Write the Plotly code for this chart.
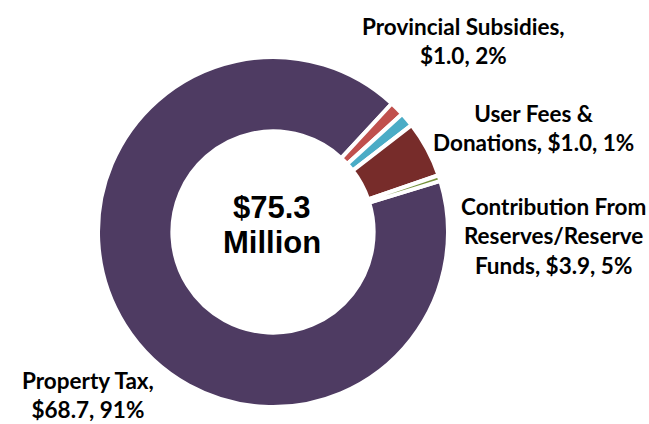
import plotly.graph_objects as go

# Revenue sources ($ millions), in clockwise drawing order
categories = ["Property Tax", "Provincial Subsidies", "User Fees & Donations",
              "Contribution From Reserves/Reserve Funds", "Other"]
values = [68.7, 1.0, 1.0, 3.9, 0.4]
percent_labels = ["91%", "2%", "1%", "5%", ""]
label_lines = [
    ["Property Tax,"],
    ["Provincial Subsidies,"],
    ["User Fees &", "Donations,"],
    ["Contribution From", "Reserves/Reserve", "Funds,"],
    [],
]
center_lines = ["$75.3", "Million"]

colors = ["#4E3B62", "#C0504D", "#4BACC6", "#772C2A", "#77933C"]

W, H = 649, 424

fig = go.Figure(go.Pie(
    labels=categories,
    values=values,
    sort=False,
    direction="clockwise",
    rotation=73,
    hole=0.575,
    textinfo="none",
    hoverinfo="label+value",
    marker=dict(colors=colors, line=dict(color="white", width=4)),
    domain=dict(x=[98 / W, 448 / W], y=[1 - 407 / H, 1 - 57 / H]),
    showlegend=False,
))

# Outside label placement (pixel centres of each text block)
label_pos = {0: (88, 395), 1: (463, 41), 2: (533, 128), 3: (553, 236)}

annotations = []
for i, (px, py) in label_pos.items():
    lines = list(label_lines[i])
    tail = f"${values[i]:.1f}, {percent_labels[i]}"
    if i in (0, 1):
        lines.append(tail)
    else:
        lines[-1] = lines[-1] + " " + tail
    annotations.append(dict(
        text="<br>".join(lines), x=px / W, y=1 - py / H,
        xref="paper", yref="paper", xanchor="center", yanchor="middle",
        showarrow=False, align="center",
        font=dict(family="Lato", size=22.5, color="#000000", weight="bold"),
    ))

for txt, py in zip(center_lines, (207, 243)):
    annotations.append(dict(
        text=f"<b>{txt}</b>", x=272 / W, y=1 - py / H,
        xref="paper", yref="paper", xanchor="center", yanchor="middle",
        showarrow=False,
        font=dict(family="Liberation Sans", size=31, color="#000000"),
    ))

fig.update_layout(
    width=W, height=H,
    margin=dict(l=0, r=0, t=0, b=0),
    paper_bgcolor="white", plot_bgcolor="white",
    annotations=annotations,
)

fig.write_html("out.html")
